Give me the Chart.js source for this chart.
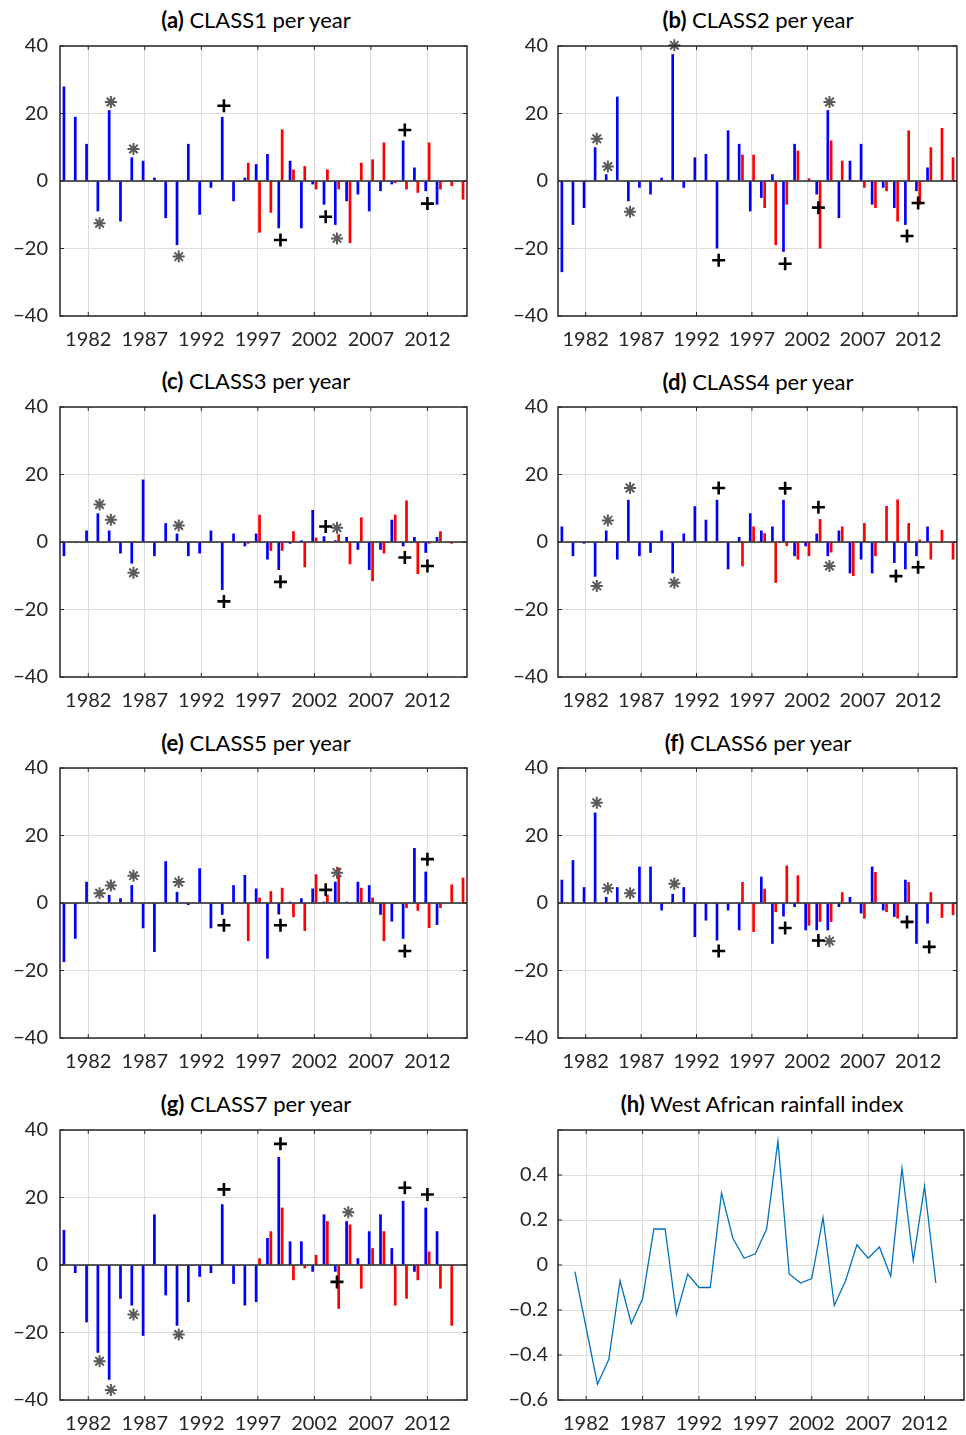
<!DOCTYPE html>
<html>
<head>
<meta charset="utf-8">
<script src="https://cdn.jsdelivr.net/npm/chart.js@4.4.1/dist/chart.umd.min.js"></script>
<style>
  body { margin: 0; background: #fff; width: 966px; height: 1435px; position: relative; overflow: hidden; font-family: Lato, sans-serif; }
  canvas { position: absolute; }
  .title { position: absolute; font-size: 22px; color: #000; white-space: nowrap; transform: translate(-50%, -50%); line-height: 1; }
</style>
</head>
<body>

<div class="title" style="left:256px;top:20px"><b>(a)</b> CLASS1 per year</div>
<div class="title" style="left:758px;top:20px"><b>(b)</b> CLASS2 per year</div>
<div class="title" style="left:256px;top:381px"><b>(c)</b> CLASS3 per year</div>
<div class="title" style="left:758px;top:382px"><b>(d)</b> CLASS4 per year</div>
<div class="title" style="left:256px;top:743px"><b>(e)</b> CLASS5 per year</div>
<div class="title" style="left:758px;top:743px"><b>(f)</b> CLASS6 per year</div>
<div class="title" style="left:256px;top:1104px"><b>(g)</b> CLASS7 per year</div>
<div class="title" style="left:762px;top:1104px"><b>(h)</b> West African rainfall index</div>

<canvas id="ca" width="483" height="336" style="left:0;top:22px"></canvas>
<canvas id="cb" width="483" height="334" style="left:483px;top:24px"></canvas>
<canvas id="cc" width="483" height="336" style="left:0;top:383px"></canvas>
<canvas id="cd" width="483" height="334" style="left:483px;top:385px"></canvas>
<canvas id="ce" width="483" height="336" style="left:0;top:744px"></canvas>
<canvas id="cf" width="483" height="334" style="left:483px;top:746px"></canvas>
<canvas id="cg" width="483" height="336" style="left:0;top:1106px"></canvas>
<canvas id="ch" width="483" height="334" style="left:483px;top:1108px"></canvas>

<script>
// years on the x axis, blue series 1980-2013, red series 1996-2015
const years = [];
for (let y = 1980; y <= 2015; y++) years.push(y);
const xTickYears = [1982, 1987, 1992, 1997, 2002, 2007, 2012];

// (a) CLASS1
const aBlue = [28, 19, 11, -9, 21, -12, 7, 6, 1, -11, -19, 11, -10, -2, 19, -6, 1, 5, 8, -14, 6, -14, -1, -7, -13, -6, -4, -9, -3, -1, 12, 4, -3, -7];
const aRed = [5.4, -15.3, -9.4, 15.3, 3.4, 4.4, -2.5, 3.4, -2.5, -18.4, 5.4, 6.4, 11.4, -0.6, -2.5, -3.5, 11.4, -2.5, -1.5, -5.5];
const aStar = [[1983, -12.5], [1984, 23.4], [1986, 9.5], [1990, -22.4], [2004, -17]];
const aPlus = [[1994, 22.3], [1999, -17.5], [2003, -10.6], [2010, 15.1], [2012, -6.7]];

// (b) CLASS2
const bBlue = [-27, -13, -8, 10, 2, 25, -6, -2, -4, 1, 37.6, -2, 7, 8, -20, 15, 11, -9, -5, 2, -21, 11, 0, -4, 21, -11, 6, 11, -7, -2, -8, -13, -3, 4];
const bRed = [7.8, 7.8, -8, -19, -7, 9, 0.8, -20, 12, 6, 0.3, -2, -8, -3, -12, 15, -7, 10, 15.7, 7];
const bStar = [[1983, 12.5], [1984, 4.3], [1986, -9.1], [1990, 40.2], [2004, 23.4]];
const bPlus = [[1994, -23.5], [2000, -24.5], [2003, -7.9], [2011, -16.3], [2012, -6.5]];

// (c) CLASS3
const cBlue = [-4.2, -0.3, 3.4, 8.5, 3.4, -3.4, -6.4, 18.5, -4.2, 5.6, 2.5, -4.2, -3.4, 3.4, -14.2, 2.5, -1.3, 2.5, -5.2, -8.3, -0.5, 0.5, 9.5, 1.7, 0.5, 1.5, -2.3, -8.3, -2.3, 6.6, -1.3, 1.5, -3.2, 1.5];
const cRed = [-0.5, 8.1, -2.6, -2.6, 3.2, -7.5, 1.3, 0.3, 2.3, -6.6, 7.3, -11.6, -3.4, 8.1, 12.3, -9.5, -0.5, 3.2, -0.5, -0.3];
const cStar = [[1983, 11.1], [1984, 6.6], [1986, -9.1], [1990, 4.9], [2004, 4.2]];
const cPlus = [[1994, -17.6], [1999, -11.8], [2003, 4.6], [2010, -4.6], [2012, -7.1]];

// (d) CLASS4
const dBlue = [4.6, -4.2, -0.5, -10.3, 3.4, -5.2, 12.5, -4.2, -3.2, 3.4, -9.3, 2.5, 10.6, 6.6, 12.5, -8.1, 1.5, 8.5, 3.4, 4.6, 12.5, -4.2, -1.3, 2.5, -4.2, 3.4, -9.3, -5.2, -9.3, -0.3, -6.2, -8.1, -4.2, 4.6];
const dRed = [-7.2, 4.6, 2.6, -12.1, -1.2, -5.2, -4.2, 6.8, -3.1, 4.6, -10.1, 5.6, -4.2, 10.7, 12.6, 5.6, 0.7, -5.2, 3.6, -5.2];
const dStar = [[1983, -13], [1984, 6.4], [1986, 16], [1990, -12.1], [2004, -7.1]];
const dPlus = [[1994, 16], [2000, 15.9], [2003, 10.3], [2010, -10.1], [2012, -7.5]];

// (e) CLASS5
const eBlue = [-17.5, -10.6, 6.3, 0.4, 2.4, 1.4, 5.3, -7.5, -14.5, 12.4, 3.3, -0.6, 10.3, -7.5, -3.5, 5.3, 8.3, 4.3, -16.5, -3.4, 0.4, 1.4, 4.3, 0.4, 6.3, 0.4, 6.3, 5.3, -3.5, -5.5, -10.6, 16.3, 9.3, -6.5];
const eRed = [-11.3, 1.6, 3.5, 4.5, -4.2, -8.3, 8.5, 2.5, 10.5, -0.3, 4.5, 1.6, -11.3, -0.3, -1.5, -2.3, -7.4, -1.5, 5.5, 7.5];
const eStar = [[1983, 2.9], [1984, 5.2], [1986, 8.1], [1990, 6.2], [2004, 9]];
const ePlus = [[1994, -6.6], [1999, -6.6], [2003, 3.9], [2010, -14.2], [2012, 13]];

// (f) CLASS6
const fBlue = [6.9, 12.7, 4.7, 26.8, 1.8, 4.7, 0.2, 10.8, 10.8, -2.2, 2.7, 4.7, -10.1, -5.2, -11.1, -2.2, -8.1, 0, 7.8, -12.1, -4, -1.2, -8.1, -8.1, -8.1, -1.2, 1.8, -3.1, 10.8, -2.2, -4.1, 6.9, -12.1, -6.1];
const fRed = [6.2, -8.6, 4.2, -2.7, 11.1, 8.2, -6.7, -5.6, -5.6, 3.2, 0, -4.6, 9.2, -2.7, -4.6, 6.2, 0.2, 3.2, -4.4, -3.6];
const fStar = [[1983, 29.7], [1984, 4.4], [1986, 2.9], [1990, 5.7], [2004, -11.3]];
const fPlus = [[1994, -14.2], [2000, -7.4], [2003, -11.1], [2011, -5.6], [2013, -13]];

// (g) CLASS7
const gBlue = [10.4, -2.4, -17, -26, -34, -10, -12, -21, 15, -9, -18, -11, -3.5, -2.4, 18, -5.6, -12, -11, 8, 32, 7, 7, -2, 15, -2, 13, 2, 10, 15, 5, 19, -2, 17, 10];
const gRed = [0, 2, 10, 17, -4.5, -1, 3, 13, -13, 12, -7, 5, 10, -12, -10, -4.5, 4, -7, -18, 0];
const gStar = [[1983, -28.5], [1984, -37], [1986, -14.7], [1990, -20.6], [2005, 15.6]];
const gPlus = [[1994, 22.4], [1999, 35.9], [2004, -5], [2010, 22.9], [2012, 20.9]];

// (h) West African rainfall index
const hYears = [1981, 1982, 1983, 1984, 1985, 1986, 1987, 1988, 1989, 1990, 1991, 1992, 1993, 1994, 1995, 1996, 1997, 1998, 1999, 2000, 2001, 2002, 2003, 2004, 2005, 2006, 2007, 2008, 2009, 2010, 2011, 2012, 2013];
const hIndex = [-0.03, -0.28, -0.53, -0.42, -0.07, -0.26, -0.15, 0.16, 0.16, -0.22, -0.04, -0.1, -0.1, 0.32, 0.12, 0.03, 0.05, 0.16, 0.55, -0.04, -0.08, -0.06, 0.21, -0.18, -0.07, 0.09, 0.03, 0.08, -0.05, 0.43, 0.02, 0.35, -0.08];

const tickColor = '#262626';
const gridColor = '#dcdcdc';
const tickFont = { family: 'Lato', size: 20 };

function alignBlue(vals) {
    return years.map((y, i) => i < vals.length ? vals[i] : null);
}
function alignRed(vals) {
    return years.map(y => y >= 1996 ? vals[y - 1996] : null);
}
function alignMarks(marks) {
    return years.map(y => {
        const m = marks.find(p => p[0] === y);
        return m ? m[1] : null;
    });
}
function minus(v) {
    return v < 0 ? '\u2212' + String(Math.abs(v)) : String(v);
}

// box round the axes, inward tick marks, bar baseline
const boxPlugin = {
    id: 'box',
    afterDatasetsDraw(chart, args, opts) {
        const ctx = chart.ctx, a = chart.chartArea, sx = chart.scales.x, sy = chart.scales.y;
        ctx.save();
        ctx.strokeStyle = tickColor;
        ctx.lineWidth = 1.5;
        if (opts.zero) {
            const y0 = sy.getPixelForValue(0);
            ctx.beginPath(); ctx.moveTo(a.left, y0); ctx.lineTo(a.right, y0); ctx.stroke();
        }
        ctx.strokeRect(a.left, a.top, a.width, a.height);
        ctx.lineWidth = 1;
        ctx.beginPath();
        sy.ticks.forEach(t => {
            const y = sy.getPixelForValue(t.value);
            ctx.moveTo(a.left, y); ctx.lineTo(a.left + 4, y);
            ctx.moveTo(a.right, y); ctx.lineTo(a.right - 4, y);
        });
        xTickYears.forEach(yr => {
            const x = sx.type === 'category' ? sx.getPixelForValue(years.indexOf(yr)) : sx.getPixelForValue(yr);
            ctx.moveTo(x, a.bottom); ctx.lineTo(x, a.bottom - 4);
            ctx.moveTo(x, a.top); ctx.lineTo(x, a.top + 4);
        });
        ctx.stroke();
        ctx.restore();
    }
};
Chart.register(boxPlugin);

function barPanel(id, right, blue, red, stars, pluses) {
    new Chart(document.getElementById(id), {
        type: 'bar',
        data: {
            labels: years,
            datasets: [
                { type: 'line', data: alignMarks(pluses), showLine: false, pointStyle: 'cross', pointRadius: 6.5, pointBorderWidth: 2.6, pointBorderColor: '#000', clip: false, order: 0 },
                { type: 'line', data: alignMarks(stars), showLine: false, pointStyle: 'star', pointRadius: 6, pointBorderWidth: 2, pointBorderColor: '#5a5a5a', clip: false, order: 0 },
                { data: alignBlue(blue), backgroundColor: '#0000ff', categoryPercentage: 0.6, barPercentage: 0.8, order: 1 },
                { data: alignRed(red), backgroundColor: '#ff0000', categoryPercentage: 0.6, barPercentage: 0.8, order: 1 }
            ]
        },
        options: {
            responsive: false,
            animation: false,
            events: [],
            layout: { padding: { left: 0, right: right ? 2 : 16, top: 0, bottom: 0 } },
            plugins: { legend: { display: false }, tooltip: { enabled: false }, box: { zero: true } },
            scales: {
                x: {
                    offset: true,
                    grid: {
                        offset: false, drawTicks: false, lineWidth: 1,
                        color: c => xTickYears.includes(years[c.index]) ? gridColor : 'rgba(0,0,0,0)'
                    },
                    border: { display: false },
                    ticks: {
                        autoSkip: false, maxRotation: 0, minRotation: 0, padding: 12,
                        color: tickColor, font: tickFont,
                        callback: (v, i) => xTickYears.includes(years[i]) ? String(years[i]) : ''
                    },
                    afterFit: s => { s.height = 42; }
                },
                y: {
                    min: -40, max: 40,
                    grid: { drawTicks: false, color: gridColor },
                    border: { display: false },
                    ticks: { stepSize: 20, padding: right ? 10 : 12, color: tickColor, font: tickFont, callback: v => minus(v) },
                    afterFit: s => { s.width = right ? 75 : 60; }
                }
            }
        }
    });
}

barPanel('ca', false, aBlue, aRed, aStar, aPlus);
barPanel('cb', true, bBlue, bRed, bStar, bPlus);
barPanel('cc', false, cBlue, cRed, cStar, cPlus);
barPanel('cd', true, dBlue, dRed, dStar, dPlus);
barPanel('ce', false, eBlue, eRed, eStar, ePlus);
barPanel('cf', true, fBlue, fRed, fStar, fPlus);
barPanel('cg', false, gBlue, gRed, gStar, gPlus);

new Chart(document.getElementById('ch'), {
    type: 'line',
    data: {
        datasets: [{
            data: hYears.map((yr, i) => ({ x: yr, y: hIndex[i] })),
            borderColor: '#0072bd', borderWidth: 1.3, pointRadius: 0, tension: 0
        }]
    },
    options: {
        responsive: false,
        animation: false,
        events: [],
        layout: { padding: { left: 0, right: 2, top: 0, bottom: 0 } },
        plugins: { legend: { display: false }, tooltip: { enabled: false }, box: { zero: false } },
        scales: {
            x: {
                type: 'linear', min: 1979.5, max: 2015.5,
                afterBuildTicks: s => { s.ticks = xTickYears.map(v => ({ value: v })); },
                grid: { drawTicks: false, color: gridColor },
                border: { display: false },
                ticks: { padding: 12, color: tickColor, font: tickFont, maxRotation: 0, callback: v => String(v) },
                afterFit: s => { s.height = 42; }
            },
            y: {
                min: -0.6, max: 0.6,
                grid: { drawTicks: false, color: gridColor },
                border: { display: false },
                ticks: {
                    stepSize: 0.2, padding: 10, color: tickColor, font: tickFont,
                    callback: v => {
                        const r = Math.round(v * 10) / 10;
                        return r > 0.55 ? '' : minus(r);
                    }
                },
                afterFit: s => { s.width = 75; }
            }
        }
    }
});
</script>
</body>
</html>
